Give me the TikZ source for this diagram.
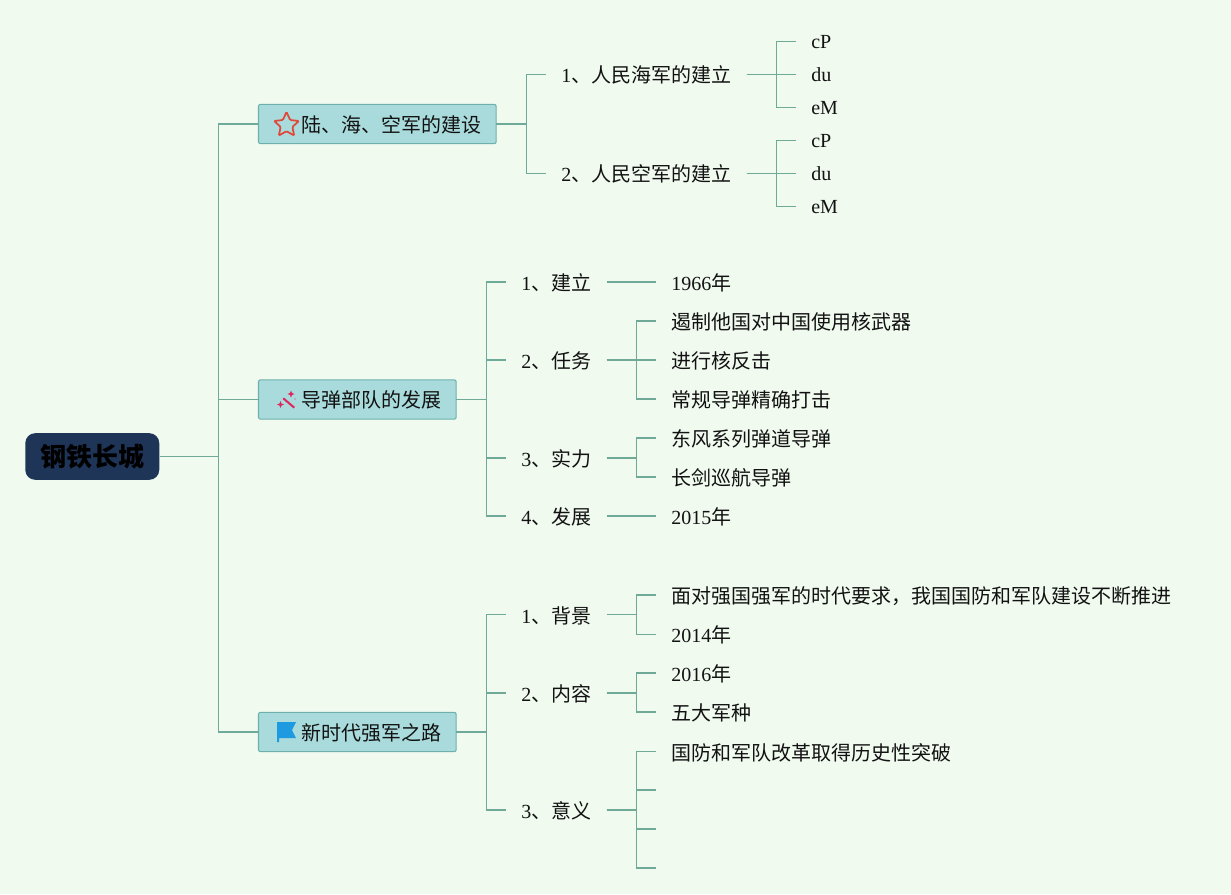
\documentclass[tikz,border=0pt]{standalone}
\usepackage{fontspec}
\setmainfont{Liberation Serif}
\newfontfamily\cjk{Noto Sans CJK SC}
\usepackage{xcolor}
\usetikzlibrary{shapes.geometric}
\definecolor{paper}{HTML}{F0FAEF}
\definecolor{linkgreen}{HTML}{6FAA98}
\definecolor{boxfill}{HTML}{A9DBDC}
\definecolor{boxline}{HTML}{6FB0AC}
\definecolor{rootfill}{HTML}{1E3558}
\definecolor{starred}{HTML}{E0483A}
\definecolor{wandred}{HTML}{E0245E}
\definecolor{flagblue}{HTML}{1E9BE0}
\tikzset{
link/.style={draw=linkgreen,line width=0.8pt},
leaf/.style={anchor=west,inner xsep=11.25pt,inner ysep=0pt,text height=14pt,text depth=1.5pt,font=\fontsize{15pt}{18pt}\selectfont,text=black!93},
latinleaf/.style={leaf,text height=12.6pt},
topic/.style={leaf,inner xsep=11pt,outer sep=0pt,draw=boxline,fill=boxfill,line width=0.8pt,rounded corners=1.5pt,minimum height=29.5pt},
rootbox/.style={anchor=west,fill=rootfill,rounded corners=7.5pt,minimum width=100.5pt,minimum height=35pt,inner sep=0pt,font=\fontsize{19.5pt}{22pt}\selectfont\bfseries},
}
\newcommand{\kids}[2]{\foreach \kid in {#2} \draw[link] (#1.east) -- ++(30,0) |- (\kid.west);}
\newcommand{\iconpad}{\hspace*{21.25pt}}
\begin{document}
\begin{tikzpicture}[x=0.75pt,y=-0.75pt]
\useasboundingbox (0,0) rectangle (1231,894);
\fill[paper] (0,0) rectangle (1231,894);
\node[rootbox] (root) at (25,456.5) {\cjk 钢铁长城};
\node[topic] (jianshe) at (258.5,124) {\iconpad\cjk 陆、海、空军的建设};
\node[topic] (daodan) at (258.5,399.5) {\iconpad\cjk 导弹部队的发展};
\node[topic] (xinshidai) at (258.5,732) {\iconpad\cjk 新时代强军之路};
\node[leaf] (haijun) at (546,74.3) {1{\cjk 、人民海军的建立}};
\node[leaf] (kongjun) at (546,173.3) {2{\cjk 、人民空军的建立}};
\node[latinleaf] (hA) at (796,41.3) {cP};
\node[latinleaf] (hB) at (796,74.3) {du};
\node[latinleaf] (hC) at (796,107.3) {eM};
\node[latinleaf] (kA) at (796,140.3) {cP};
\node[latinleaf] (kB) at (796,173.3) {du};
\node[latinleaf] (kC) at (796,206.3) {eM};
\node[leaf] (jianli) at (506,282) {1{\cjk 、建立}};
\node[leaf] (renwu) at (506,360) {2{\cjk 、任务}};
\node[leaf] (shili) at (506,458) {3{\cjk 、实力}};
\node[leaf] (fazhan) at (506,516) {4{\cjk 、发展}};
\node[leaf] (y1966) at (656,282) {1966{\cjk 年}};
\node[leaf] (rA) at (656,321) {\cjk 遏制他国对中国使用核武器};
\node[leaf] (rB) at (656,360) {\cjk 进行核反击};
\node[leaf] (rC) at (656,399) {\cjk 常规导弹精确打击};
\node[leaf] (sA) at (656,438) {\cjk 东风系列弹道导弹};
\node[leaf] (sB) at (656,477) {\cjk 长剑巡航导弹};
\node[leaf] (y2015) at (656,516) {2015{\cjk 年}};
\node[leaf] (beijing) at (506,614.7) {1{\cjk 、背景}};
\node[leaf] (neirong) at (506,693) {2{\cjk 、内容}};
\node[leaf] (yiyi) at (506,810) {3{\cjk 、意义}};
\node[leaf] (bA) at (656,595) {\cjk 面对强国强军的时代要求，我国国防和军队建设不断推进};
\node[leaf] (y2014) at (656,634.3) {2014{\cjk 年}};
\node[leaf] (y2016) at (656,673) {2016{\cjk 年}};
\node[leaf] (nB) at (656,712) {\cjk 五大军种};
\node[leaf] (yA) at (656,751.7) {\cjk 国防和军队改革取得历史性突破};
\coordinate (yB) at (656,790);
\coordinate (yC) at (656,829);
\coordinate (yD) at (656,868);
\foreach \kid in {jianshe,daodan,xinshidai} \draw[link] (root.east) -- ++(59,0) |- (\kid.west);
\kids{jianshe}{haijun,kongjun}
\kids{haijun}{hA,hB,hC}
\kids{kongjun}{kA,kB,kC}
\kids{daodan}{jianli,renwu,shili,fazhan}
\kids{jianli}{y1966}
\kids{renwu}{rA,rB,rC}
\kids{shili}{sA,sB}
\kids{fazhan}{y2015}
\kids{xinshidai}{beijing,neirong,yiyi}
\kids{beijing}{bA,y2014}
\kids{neirong}{y2016,nB}
\kids{yiyi}{yA}
\foreach \kid in {yB,yC,yD} \draw[link] (yiyi.east) -- ++(30,0) |- (\kid);
\node[star,star points=5,star point ratio=2.1,draw=starred,line width=1.3pt,rounded corners=0.8pt,minimum size=19.5pt,inner sep=0pt] (staricon) at (286.5,125) {};
\draw[wandred,line width=1.5pt] (283.3,398.3) -- (294.3,407.7);
\fill[wandred] (291,390.5) -- (292,393) -- (294.5,394) -- (292,395) -- (291,397.5) -- (290,395) -- (287.5,394) -- (290,393) -- cycle;
\fill[wandred] (280.5,401) -- (281.5,403.5) -- (284,404.5) -- (281.5,405.5) -- (280.5,408) -- (279.5,405.5) -- (277,404.5) -- (279.5,403.5) -- cycle;
\fill[wandred] (295,399) circle (0.7);
\fill[flagblue] (277,722) -- (296,722) -- (292,730) -- (296,738) -- (279,738) -- (279,742) -- (277,742) -- cycle;
\end{tikzpicture}
\end{document}
